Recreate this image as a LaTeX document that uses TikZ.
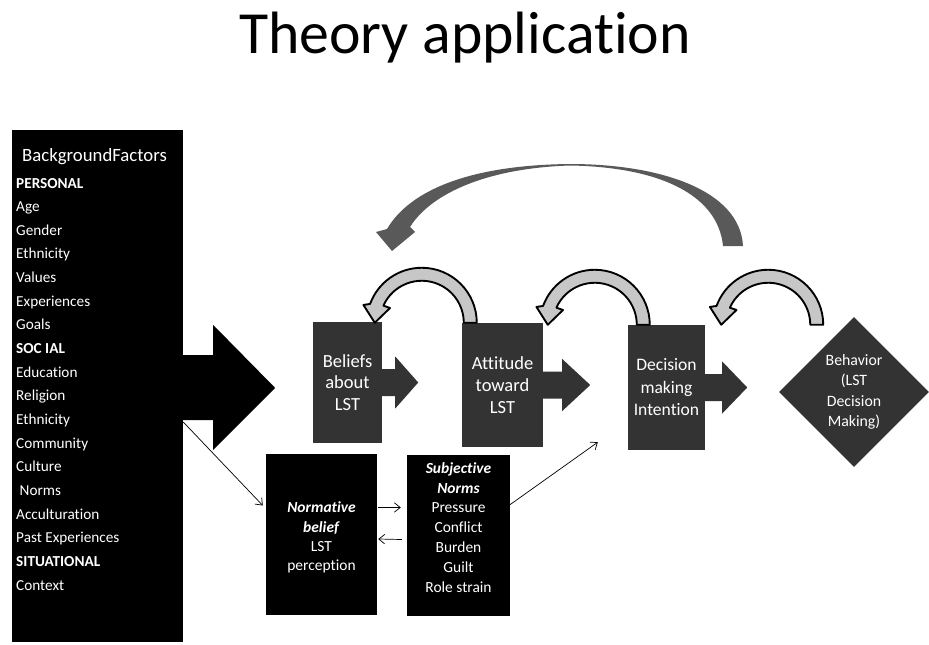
\documentclass[tikz,border=0pt]{standalone}
\usepackage{fontspec}
\setmainfont{Carlito}[RawFeature={-liga;-clig;-calt;-dlig}]
\usetikzlibrary{shapes.geometric,arrows.meta,calc}
\tikzset{
  dkbox/.style={fill=black!80, text=white, inner sep=0pt, align=center},
  blkbox/.style={fill=black, text=white, inner sep=0pt, align=center},
  boxtext/.style={text=white, inner sep=0pt, align=center},
  listitem/.style={text=white, inner sep=0pt, anchor=base west, font=\fontsize{13}{15}\selectfont},
  garc/.style={fill=black!22, draw=black, line width=1.6pt, line join=round},
  thinarrow/.style={-{Straight Barb[length=5pt,width=8pt]}, line width=0.6pt}
}

\begin{document}
\begin{tikzpicture}[x=0.03cm, y=-0.03cm]
\useasboundingbox (0,0) rectangle (929,644);

% title
\node[anchor=base, font=\fontsize{51}{60}\selectfont] (title) at (465,53) {Theory application};

% background factors
\node[blkbox, minimum width=5.13cm, minimum height=15.36cm] (bg) at (97.5,386) {};
\node[text=white, inner sep=0pt, anchor=base west, font=\fontsize{16}{19}\selectfont] (bgtitle) at (22,161) {BackgroundFactors};
\foreach \txt [count=\i from 0] in {\textbf{PERSONAL}, Age, Gender, Ethnicity, Values, Experiences, Goals,
    \textbf{SOC IAL}, Education, Religion, Ethnicity, Community, Culture, \hspace{3pt}Norms, Acculturation,
    Past Experiences, \textbf{SITUATIONAL}, Context}
  \node[listitem] (item\i) at (16,{188+23.65*\i}) {\txt};
\fill[black] ($(bg.east)+(-1,-31)$) -- ++(31,0) -- ++(0,-30) -- ++(62,63) -- ++(-62,62) -- ++(0,-30) -- ++(-31,0) -- cycle;

% main chain
\node[dkbox, minimum width=2.07cm, minimum height=3.63cm, font=\fontsize{15.8}{18.4}\selectfont] (bel) at (347.5,382.5) {Beliefs\\about\\LST};
\node[dkbox, minimum width=2.43cm, minimum height=3.72cm, font=\fontsize{15.8}{18.8}\selectfont] (att) at (502.5,385) {Attitude\\toward\\LST};
\node[dkbox, minimum width=2.31cm, minimum height=3.75cm, font=\fontsize{15}{19.2}\selectfont] (dec) at (666.5,387.5) {Decision\\making\\Intention};
\node[dkbox, diamond, aspect=1, minimum width=4.5cm, minimum height=4.5cm, font=\fontsize{13.5}{17.5}\selectfont] (beh) at (854,392) {Behavior\\(LST\\Decision\\Making)};

\foreach \n/\s/\h in {bel/13/23, att/19/28, dec/17/25}
  \fill[black!80] ($(\n.east)+(-1,-13.5)$) -- ++(\s+1,0) -- ++(0,-12.5) -- ++(\h,26) -- ++(-\h,26) -- ++(0,-12.5) -- ++(-\s-1,0) -- cycle;

% feedback arcs
\foreach \a/\dx in {att.north west/-40, dec.north west/-33, dec.north east/63}{
  \coordinate (c) at ($(\a)+(\dx,0)$);
  \draw[garc] ($(c)+(0:55)$) arc[start angle=0, end angle=-160, radius=55]
    -- ($(c)+(-163:61)$) -- ($(c)+(-180:47)$) -- ($(c)+(-155:35)$) -- ($(c)+(-156:42)$)
    arc[start angle=-156, end angle=0, radius=42] -- cycle;
}
\fill[black!65] (743,246) .. controls (740,190) and (660,164) .. (570,164)
  .. controls (470,165) and (410,190) .. (387,229) -- (376,232) -- (392,251) -- (415,232) -- (410,227)
  .. controls (432,192) and (490,168) .. (570,165.5) .. controls (660,167) and (718,195) .. (723,246) -- cycle;

% normative part
\node[blkbox, minimum width=3.33cm, minimum height=4.83cm] (norm) at (321.5,534.5) {};
\node[boxtext, font=\fontsize{13.2}{16.5}\selectfont] (normtext) at ($(norm)+(0,3)$)
  {\textbf{\textit{Normative}}\\\textbf{\textit{belief}}\\LST\\perception};
\node[blkbox, minimum width=3.09cm, minimum height=4.83cm] (subj) at (458.5,535.5) {};
\node[boxtext, font=\fontsize{13.2}{17}\selectfont] (subjtext) at ($(subj)+(0,-8)$)
  {\textbf{\textit{Subjective}}\\\textbf{\textit{Norms}}\\Pressure\\Conflict\\Burden\\Guilt\\Role strain};

\draw[thinarrow] ($(bg.east)+(0,36)$) -- ($(norm.west)+(-3,-29)$);
\draw[thinarrow] ($(norm.east)+(1,-27)$) -- ($(subj.west)+(-6,-28)$);
\draw[thinarrow] ($(subj.west)+(-5,4)$) -- ($(norm.east)+(1,4.5)$);
\draw[thinarrow] ($(subj.east)+(0,-31)$) -- ($(dec.south west)+(-30,-8)$);
\end{tikzpicture}
\end{document}
